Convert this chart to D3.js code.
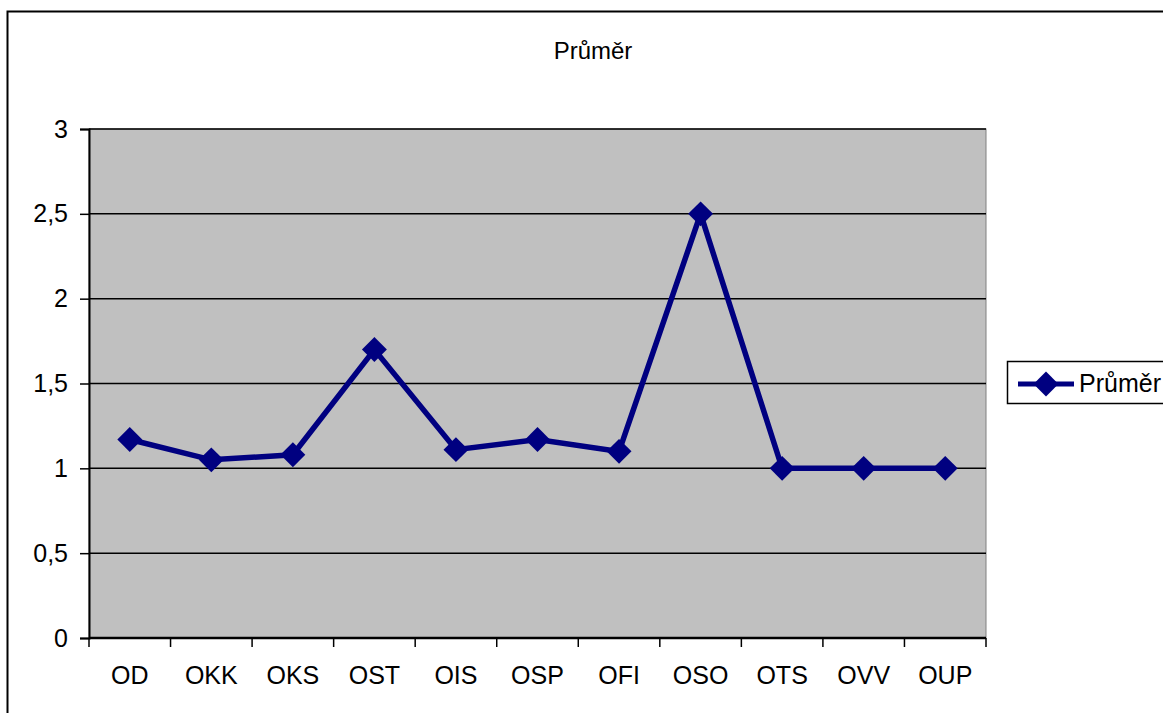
<!DOCTYPE html>
<html>
<head>
<meta charset="utf-8">
<script src="https://cdn.jsdelivr.net/npm/d3@7"></script>
<style>
  body { margin: 0; background: #fff; overflow: hidden; }
  text { font-family: "Liberation Sans", Arial, sans-serif; }
</style>
</head>
<body>
<svg id="chart" width="1163" height="713"></svg>
<script>
// chart data
var categories = ['OD', 'OKK', 'OKS', 'OST', 'OIS', 'OSP', 'OFI', 'OSO', 'OTS', 'OVV', 'OUP'];
var averages = [1.17, 1.05, 1.08, 1.70, 1.11, 1.17, 1.10, 2.50, 1.00, 1.00, 1.00];
var yTicks = [0, 0.5, 1, 1.5, 2, 2.5, 3];
var seriesName = 'Průměr';

var svg = d3.select('#chart');

// outer frame of the chart object
svg.append('rect')
    .attr('x', 7.5).attr('y', 11.5)
    .attr('width', 1170).attr('height', 720)
    .attr('fill', '#fff').attr('stroke', '#000').attr('stroke-width', 2);

var plot = {l: 89, t: 129, r: 986, b: 638};

var xScale = d3.scaleBand()
    .domain(categories)
    .range([plot.l, plot.r]);
var yScale = d3.scaleLinear()
    .domain([0, 3])
    .range([plot.b, plot.t]);

// grey plot area
svg.append('rect')
    .attr('x', plot.l).attr('y', plot.t)
    .attr('width', plot.r - plot.l).attr('height', plot.b - plot.t)
    .attr('fill', '#c0c0c0').attr('stroke', '#808080').attr('stroke-width', 1);

// horizontal gridlines
svg.append('g').selectAll('line')
    .data(yTicks.filter(function(d) { return d > 0; }))
    .enter().append('line')
    .attr('x1', plot.l).attr('x2', plot.r)
    .attr('y1', function(d) { return yScale(d); })
    .attr('y2', function(d) { return yScale(d); })
    .attr('stroke', '#000').attr('stroke-width', 1.5);

// y axis
var yAx = svg.append('g')
    .attr('transform', 'translate(' + plot.l + ',0)')
    .call(d3.axisLeft(yScale)
        .tickValues(yTicks)
        .tickSize(9)
        .tickPadding(12)
        .tickFormat(function(d) { return String(d).replace('.', ','); }));
yAx.select('.domain').attr('stroke', '#000').attr('stroke-width', 2);
yAx.selectAll('.tick line').attr('stroke', '#000').attr('stroke-width', 1.5);
yAx.selectAll('text')
    .attr('font-size', 25).attr('fill', '#000')
    .attr('font-family', '"Liberation Sans", Arial, sans-serif');

// x axis: ticks on category boundaries
var xAx = svg.append('g')
    .attr('transform', 'translate(0,' + plot.b + ')');
xAx.append('line')
    .attr('x1', plot.l).attr('x2', plot.r)
    .attr('stroke', '#000').attr('stroke-width', 2.5);
var bounds = categories.map(function(c) { return xScale(c); }).concat([plot.r]);
xAx.selectAll('.bt')
    .data(bounds)
    .enter().append('line')
    .attr('class', 'bt')
    .attr('x1', function(d) { return d; }).attr('x2', function(d) { return d; })
    .attr('y1', 0).attr('y2', 9)
    .attr('stroke', '#000').attr('stroke-width', 1.5);
xAx.selectAll('text')
    .data(categories)
    .enter().append('text')
    .attr('x', function(d) { return xScale(d) + xScale.bandwidth() / 2; })
    .attr('y', 46)
    .attr('text-anchor', 'middle')
    .attr('font-size', 25)
    .text(function(d) { return d; });

// series line
var pts = categories.map(function(c, i) { return {cat: c, val: averages[i]}; });
var line = d3.line()
    .x(function(d) { return xScale(d.cat) + xScale.bandwidth() / 2; })
    .y(function(d) { return yScale(d.val); });

svg.append('path')
    .datum(pts)
    .attr('d', line)
    .attr('fill', 'none')
    .attr('stroke', '#000080')
    .attr('stroke-width', 5.5)
    .attr('stroke-linejoin', 'miter');

var diamond = d3.symbol().type(d3.symbolSquare).size(310);
svg.append('g').selectAll('path')
    .data(pts)
    .enter().append('path')
    .attr('d', diamond)
    .attr('transform', function(d) {
        return 'translate(' + (xScale(d.cat) + xScale.bandwidth() / 2) + ',' + yScale(d.val) + ') rotate(45)';
    })
    .attr('fill', '#000080');

// title
svg.append('text')
    .attr('x', 593).attr('y', 59)
    .attr('text-anchor', 'middle')
    .attr('font-size', 24)
    .text(seriesName);

// legend
var leg = svg.append('g').attr('transform', 'translate(1007,361)');
leg.append('rect')
    .attr('x', 0.5).attr('y', 0.5)
    .attr('width', 200).attr('height', 42)
    .attr('fill', '#fff').attr('stroke', '#000').attr('stroke-width', 1.5);
leg.append('line')
    .attr('x1', 11).attr('x2', 67)
    .attr('y1', 23).attr('y2', 23)
    .attr('stroke', '#000080').attr('stroke-width', 5);
leg.append('path')
    .attr('d', diamond)
    .attr('transform', 'translate(39,23) rotate(45)')
    .attr('fill', '#000080');
leg.append('text')
    .attr('x', 72).attr('y', 31)
    .attr('font-size', 25)
    .text(seriesName);
</script>
</body>
</html>
